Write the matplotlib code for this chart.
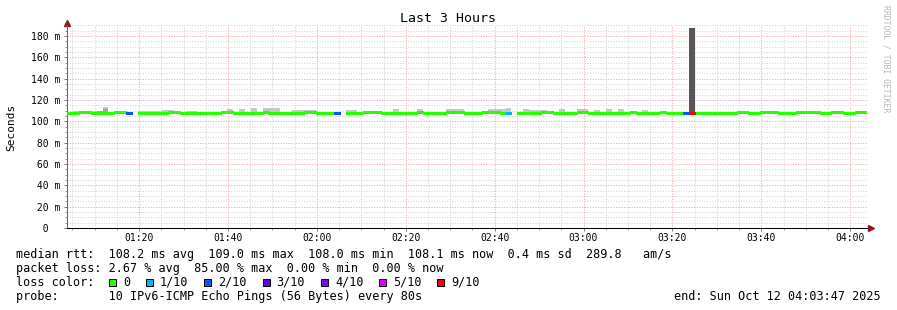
import numpy as np
import matplotlib
matplotlib.use('Agg')
import matplotlib.pyplot as plt
from matplotlib.patches import Rectangle
from matplotlib.ticker import MultipleLocator

nan = np.nan

# ---------------- data ----------------
start_min = 63 + 47 / 60          # 01:03:47 in minutes after midnight
span_min = 180                    # last 3 hours
step_min = 80 / 60                # one probe every 80 s

median_ms = [
    107.9, 107.9, 108.4, 108.4, 107.9, 107.5, 107.9, 107.9, 108.4, 108.4, 107.9, nan, 107.9, 107.9, 107.9,
    107.9, 107.9, 108.4, 108.4, 107.9, 107.9, 107.9, 107.5, 107.9, 107.9, 107.9, 108.4, 108.4, 107.9, 107.9,
    107.5, 107.9, 107.9, 108.4, 107.9, 107.9, 107.9, 107.9, 107.9, 107.9, 108.4, 108.4, 107.9, 107.9, 107.9,
    107.9, nan, 107.9, 107.9, 107.9, 108.4, 108.4, 108.4, 107.9, 107.9, 107.9, 107.5, 107.9, 107.9, 108.4,
    107.9, 107.9, 107.5, 107.9, 108.4, 108.4, 108.4, 107.9, 107.9, 107.9, 108.4, 108.4, 108.4, 107.9, 107.9,
    nan, 107.5, 107.9, 107.9, 107.9, 108.4, 108.4, 107.9, 107.9, 107.9, 107.9, 108.4, 108.4, 107.9, 107.9,
    107.5, 107.9, 107.9, 107.9, 107.9, 108.4, 107.9, 107.9, 107.9, 107.9, 108.4, 107.9, 107.9, 107.9, 107.9,
    107.9, 107.9, 107.9, 107.5, 107.5, 107.9, 107.9, 107.9, 108.4, 108.4, 107.9, 107.9, 108.4, 108.4, 108.4,
    107.9, 107.9, 107.9, 108.4, 108.4, 108.4, 108.4, 107.9, 107.9, 108.4, 108.4, 107.9, 107.9, 108.4, 108.4,
]

smoke_top_ms = [
    nan, 109.7, 109.7, nan, 109.3, 110.0, 113.7, nan, nan, nan, nan, nan, 109.7, 109.7, 109.7,
    109.7, 110.6, 110.6, nan, nan, 110.0, 110.0, nan, nan, nan, nan, nan, 111.5, nan, 111.5,
    nan, 112.5, nan, 112.5, 112.5, 112.5, nan, nan, 110.5, 110.5, 110.5, 110.5, nan, nan, nan,
    nan, nan, 110.5, 110.5, nan, nan, nan, nan, nan, nan, 111.5, nan, nan, nan, 111.5,
    nan, nan, nan, nan, 111.5, 111.5, 111.5, nan, nan, nan, nan, 111.5, 111.5, 111.5, 112.5,
    nan, nan, 111.5, 110.5, 110.5, 110.5, nan, nan, 111.5, nan, nan, 111.5, 111.5, nan, 110.5,
    nan, 111.5, nan, 111.5, nan, nan, nan, 110.5, nan, nan, nan, nan, nan, nan, nan,
    187.5, nan, nan, nan, nan, nan, nan, nan, nan, nan, nan, nan, nan, nan, nan,
    nan, nan, nan, nan, nan, nan, nan, nan, nan, nan, nan, nan, nan, nan, nan,
]

smoke_dark_ms = [
    nan, nan, nan, nan, nan, 109.6, 111.2, nan, nan, nan, nan, nan, nan, nan, nan,
    nan, nan, nan, nan, nan, nan, nan, nan, nan, nan, nan, nan, nan, nan, nan,
    nan, nan, nan, nan, nan, nan, nan, nan, nan, nan, nan, nan, nan, nan, nan,
    nan, nan, nan, nan, nan, nan, nan, nan, nan, nan, nan, nan, nan, nan, nan,
    nan, nan, nan, nan, nan, nan, nan, nan, nan, nan, nan, nan, nan, nan, nan,
    nan, nan, nan, nan, nan, nan, nan, nan, nan, nan, nan, nan, nan, nan, nan,
    nan, nan, nan, nan, nan, nan, nan, nan, nan, nan, nan, nan, nan, nan, nan,
    187.5, nan, nan, nan, nan, nan, nan, nan, nan, nan, nan, nan, nan, nan, nan,
    nan, nan, nan, nan, nan, nan, nan, nan, nan, nan, nan, nan, nan, nan, nan,
]

# lost pings out of 10 per probe round
loss_count = [0] * 135
loss_events_idx = [10, 45, 74, 104, 105]
loss_events_val = [2, 2, 1, 2, 9]

loss_levels = [0, 1, 2, 3, 4, 5, 9]
loss_colors = ['#26ff00', '#00b8ff', '#0059ff', '#5e00ff', '#7e00ff', '#dd00ff', '#ff0000']
loss_labels = ['0', '1/10', '2/10', '3/10', '4/10', '5/10', '9/10']

x_tick_minutes = [80, 100, 120, 140, 160, 180, 200, 220, 240]
x_tick_labels = ['01:20', '01:40', '02:00', '02:20', '02:40', '03:00', '03:20', '03:40', '04:00']
y_tick_values = [0, 20, 40, 60, 80, 100, 120, 140, 160, 180]
y_tick_labels = ['  0', ' 20 m', ' 40 m', ' 60 m', ' 80 m', '100 m', '120 m', '140 m', '160 m', '180 m']

title = 'Last 3 Hours'
y_label = 'Seconds'
stat_line1 = 'median rtt:  108.2 ms avg  109.0 ms max  108.0 ms min  108.1 ms now  0.4 ms sd  289.8   am/s'
stat_line2 = 'packet loss: 2.67 % avg  85.00 % max  0.00 % min  0.00 % now'
stat_line3 = 'loss color:'
stat_line4 = 'probe:       10 IPv6-ICMP Echo Pings (56 Bytes) every 80s'
end_text = 'end: Sun Oct 12 04:03:47 2025'
watermark = 'RRDTOOL / TOBI OETIKER'

# ---------------- drawing ----------------
for i, v in zip(loss_events_idx, loss_events_val):
    loss_count[i] = v

W, H = 897, 310
MONO = 'DejaVu Sans Mono'
plt.rcParams['font.family'] = MONO

fig = plt.figure(figsize=(W / 100, H / 100), dpi=100)
fig.patch.set_facecolor('white')

px_left, px_right, px_bottom, px_top = 67, 867, 228, 25.3
ax = fig.add_axes([px_left / W, 1 - px_bottom / H, (px_right - px_left) / W, (px_bottom - px_top) / H])
ax.set_facecolor('white')

med = np.array(median_ms, dtype=float)
top = np.array(smoke_top_ms, dtype=float)
dark = np.array(smoke_dark_ms, dtype=float)
loss = np.array(loss_count)
n = len(med)
t_left = start_min + step_min * np.arange(n)

# smoke
m = ~np.isnan(top) & ~np.isnan(med)
ax.bar(t_left[m], top[m] - med[m], bottom=med[m], width=step_min, align='edge',
       color='#c6c6c6', linewidth=0, zorder=2, antialiased=False)
m = ~np.isnan(dark) & ~np.isnan(med)
small = m & (dark < 150)
ax.bar(t_left[small], dark[small] - med[small], bottom=med[small], width=step_min, align='edge',
       color='#a4a4a4', linewidth=0, zorder=2.1, antialiased=False)
big = m & (dark > 150)
ax.bar(t_left[big], dark[big] - med[big], bottom=med[big], width=step_min, align='edge',
       color='#565656', linewidth=0, zorder=2.2, antialiased=False)

# median line coloured by loss
for lvl, col in zip(loss_levels, loss_colors):
    sel = (loss == lvl) & ~np.isnan(med)
    if sel.any():
        ax.hlines(med[sel], t_left[sel], t_left[sel] + step_min, colors=col,
                  linewidth=1.8, zorder=3, capstyle='butt', antialiased=False)

ax.set_xlim(start_min, start_min + span_min)
ax.set_ylim(0, 190)

ax.set_xticks(x_tick_minutes, x_tick_labels)
ax.xaxis.set_minor_locator(MultipleLocator(5))
ax.set_yticks(y_tick_values, y_tick_labels)
ax.yaxis.set_minor_locator(MultipleLocator(5))

ax.set_axisbelow(True)
ax.grid(which='minor', color='#d2d2d2', linestyle=(0, (1, 1.6)), linewidth=0.72)
ax.grid(which='major', color='#f2a0a0', linestyle=(0, (1, 1.6)), linewidth=0.72)

ax.tick_params(which='major', direction='out', length=2.2, width=0.72, color='#7a7a7a')
ax.tick_params(which='minor', direction='out', length=1.4, width=0.72, color='#9a9a9a')
ax.tick_params(axis='x', which='major', labelsize=7.05, pad=1.5)
ax.tick_params(axis='y', which='major', labelsize=7.05, pad=23.7)
for lab in ax.get_yticklabels():
    lab.set_horizontalalignment('left')

for s in ['top', 'right']:
    ax.spines[s].set_visible(False)
ax.spines['left'].set_color('#6a6a6a')
ax.spines['left'].set_linewidth(0.72)
ax.spines['bottom'].set_color('black')
ax.spines['bottom'].set_linewidth(0.72)

# arrows on axes
ax.plot([0], [1.012], marker='^', markersize=4, color='#8b1a1a', transform=ax.transAxes, clip_on=False)
ax.plot([1.005], [0], marker='>', markersize=4, color='#8b1a1a', transform=ax.transAxes, clip_on=False)

# texts
fig.text(448 / W, 1 - 19 / H, title, ha='center', va='center', fontsize=9.5)
fig.text(11 / W, 1 - 127 / H, y_label, rotation=90, ha='center', va='center', fontsize=8.0)
fig.text(886 / W, 1 - 5 / H, watermark, rotation=270, ha='center', va='top',
         fontsize=5.9, color='#b8b8b8')

fs = 8.43
cw = 7.07
ys = [254.3, 268.3, 282.3, 296.7]
fig.text(16 / W, 1 - ys[0] / H, stat_line1, ha='left', va='center', fontsize=fs)
fig.text(16 / W, 1 - ys[1] / H, stat_line2, ha='left', va='center', fontsize=fs)
fig.text(16 / W, 1 - ys[2] / H, stat_line3, ha='left', va='center', fontsize=fs)
fig.text(16 / W, 1 - ys[3] / H, stat_line4, ha='left', va='center', fontsize=fs)
fig.text(881 / W, 1 - ys[3] / H, end_text, ha='right', va='center', fontsize=fs)

bx = 109
for lab, col in zip(loss_labels, loss_colors):
    fig.patches.append(Rectangle((bx / W, 1 - (ys[2] + 3.5) / H), 7 / W, 7 / H,
                                 transform=fig.transFigure, facecolor=col,
                                 edgecolor='black', linewidth=0.72))
    fig.text((bx + 14) / W, 1 - ys[2] / H, lab, ha='left', va='center', fontsize=fs)
    bx = bx + 14 + len(lab) * cw + 16

fig.savefig('out.png', dpi=100, facecolor='white')
